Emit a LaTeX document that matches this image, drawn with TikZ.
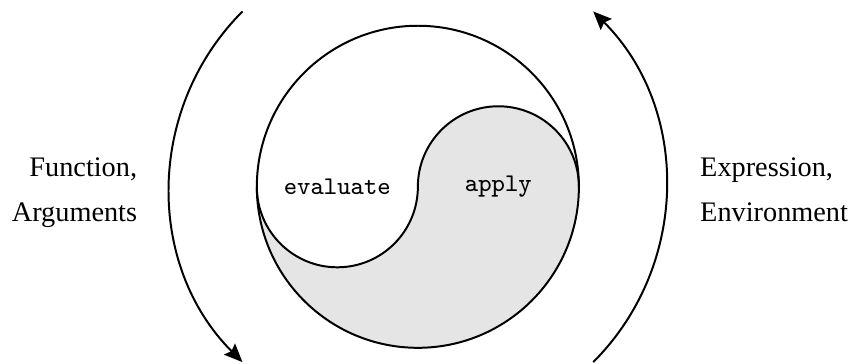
\documentclass[tikz,border=0pt]{standalone}
\usepackage{fontspec}
\setmainfont{Liberation Serif}
\usetikzlibrary{arrows.meta}

\begin{document}
\begin{tikzpicture}[
  outline/.style={line width=0.7pt},
  cycle/.style={line width=0.7pt,-{Stealth[length=6.5pt,width=5.5pt,inset=1pt]}},
  part/.style={font=\fontsize{9}{11}\selectfont\ttfamily},
  side/.style={font=\fontsize{10}{16}\selectfont,inner sep=0pt}]
  \useasboundingbox (-5.19,-2.19) rectangle (5.355,2.32);
  \fill[gray!20] (-2,0) arc[start angle=180,end angle=360,radius=2]
                 arc[start angle=0,end angle=180,radius=1]
                 arc[start angle=0,end angle=-180,radius=1];
  \draw[outline] (0,0) circle[radius=2];
  \draw[outline] (-2,0) arc[start angle=180,end angle=360,radius=1]
                        arc[start angle=180,end angle=0,radius=1];
  \node[part] (evaluate) at (-1,0) {evaluate};
  \node[part] (apply)    at (1,0)  {apply};
  \node[side,align=right,anchor=east] (funargs) at (-3.48,-0.07) {Function,\\Arguments};
  \node[side,align=left,anchor=west]  (exprenv) at (3.50,-0.035) {Expression,\\Environment};
  \coordinate (evalin)  at (135:3.08);
  \coordinate (applyin) at (-45:3.08);
  \draw[cycle] (evalin)  arc[start angle=135,end angle=225,radius=3.08];
  \draw[cycle] (applyin) arc[start angle=-45,end angle=45,radius=3.08];
\end{tikzpicture}
\end{document}
